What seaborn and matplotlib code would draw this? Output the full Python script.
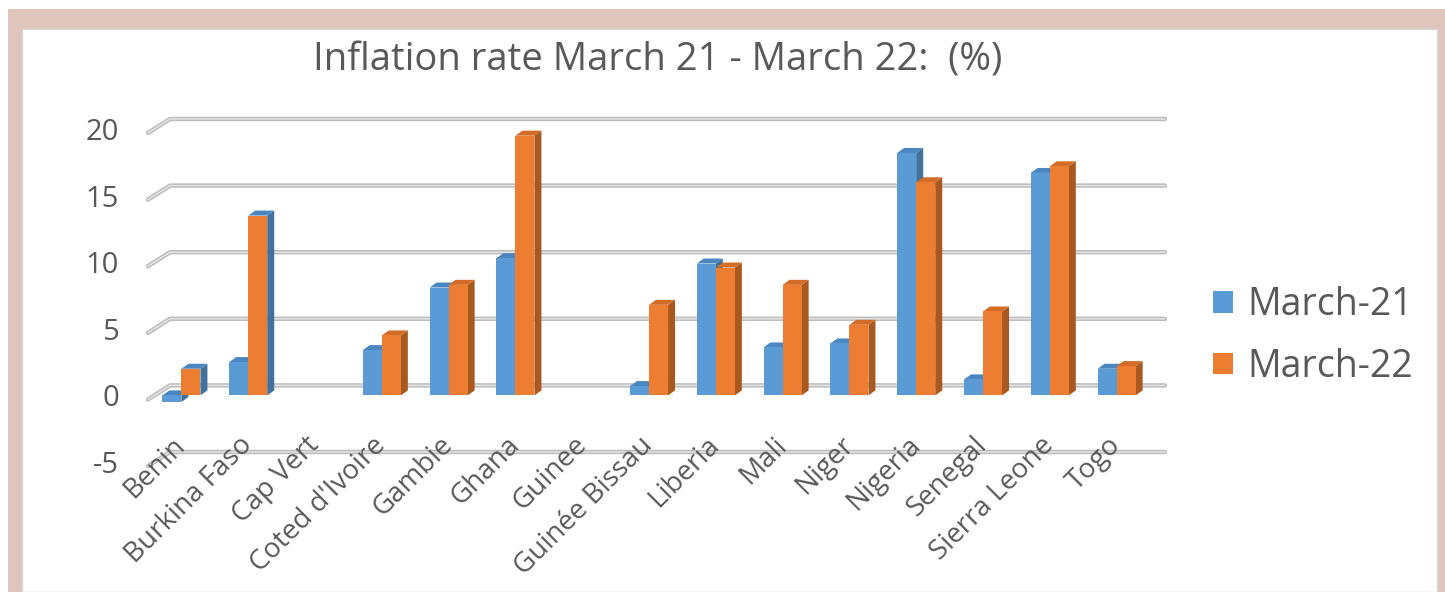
import numpy as np
import pandas as pd
import seaborn as sns
import matplotlib.pyplot as plt
from matplotlib.patches import Polygon, Rectangle, Patch
from matplotlib.transforms import ScaledTranslation

# values (NaN = no data)
countries = ["Benin", "Burkina Faso", "Cap Vert", "Coted d'Ivoire", "Gambie", "Ghana",
             "Guinee", "Guinée Bissau", "Liberia", "Mali", "Niger", "Nigeria",
             "Senegal", "Sierra Leone", "Togo"]
march_21 = [-0.5, 2.5, np.nan, 3.4, 8.1, 10.3, np.nan, 0.7, 9.9, 3.6, 3.9, 18.2, 1.2, 16.7, 2.0]
march_22 = [2.0, 13.5, np.nan, 4.5, 8.3, 19.5, np.nan, 6.8, 9.6, 8.3, 5.3, 16.0, 6.3, 17.2, 2.2]
series = ["March-21", "March-22"]
yticks = [-5, 0, 5, 10, 15, 20]

blue, orange = "#5b9bd5", "#ed7d31"
blue_side, orange_side = "#41719c", "#a9591f"
blue_top, orange_top = "#4a87c2", "#d26c27"
txt = "#595959"

df = pd.DataFrame({
    "country": countries * 2,
    "value": march_21 + march_22,
    "series": [series[0]] * len(countries) + [series[1]] * len(countries),
})

fig = plt.figure(figsize=(14.45, 5.92), dpi=100)
W, H = 1445, 592

# pink frame and white panel
fig.patches.append(Rectangle((8 / W, 0), 1 - 8 / W, 1 - 9 / H, transform=fig.transFigure,
                             facecolor="#e0c5bd", edgecolor="none", zorder=0))
fig.patches.append(Rectangle((22 / W, 0), 1415 / W, 1 - 29 / H, transform=fig.transFigure,
                             facecolor="white", edgecolor="#d9d9d9", linewidth=1, zorder=0.5))

ax = fig.add_axes([148 / W, (H - 462) / H, 1002 / W, 333 / H])
ax.set_zorder(2)
ax.set_facecolor("none")

sns.barplot(data=df, x="country", y="value", hue="series", palette=[blue, orange],
            width=0.57, ax=ax, legend=False, zorder=3, edgecolor="none", saturation=1)

ax.set_xlim(-0.5, len(countries) - 0.5)
ax.set_ylim(-5, 20)

# pixel -> data conversion for the 3D depth
px_x = ax.get_position().width * W / (len(countries))
px_y = ax.get_position().height * H / 25
dx, dy = 7 / px_x, 5 / px_y

# back-wall gridlines: front edge a bit below, back wall a bit above the bar plane
for v in yticks:
    xs = [-0.5, -0.5 + 22 / px_x, len(countries) - 0.5 + 15 / px_x]
    ys = [v - 4 / px_y, v + 10 / px_y, v + 10 / px_y]
    ax.plot(xs, ys, color="#bdbdbd", lw=3.2, solid_capstyle="round", clip_on=False, zorder=1)
    ax.plot(xs, ys, color="#e6e6e6", lw=1.0, solid_capstyle="round", clip_on=False, zorder=1.1)

# sides and tops for the bars
n = len(countries)
for i, p in enumerate(list(ax.patches)):
    h = p.get_height()
    if np.isnan(h):
        continue
    is_blue = i < n
    x0, x1 = p.get_x(), p.get_x() + p.get_width()
    y_lo, y_hi = min(0, h), max(0, h)
    side = Polygon([(x1, y_lo), (x1, y_hi), (x1 + dx, y_hi + dy), (x1 + dx, y_lo + dy)],
                   closed=True, facecolor=blue_side if is_blue else orange_side,
                   edgecolor="none", zorder=2)
    top = Polygon([(x0, y_hi), (x1, y_hi), (x1 + dx, y_hi + dy), (x0 + dx, y_hi + dy)],
                  closed=True, facecolor=blue_top if is_blue else orange_top,
                  edgecolor="none", zorder=2)
    ax.add_patch(side)
    ax.add_patch(top)

for s in ax.spines.values():
    s.set_visible(False)
ax.set_xlabel("")
ax.set_ylabel("")
ax.set_yticks(yticks)
ax.set_yticklabels([str(t) for t in yticks], fontsize=21, color=txt, fontfamily="Open Sans")
shift = ScaledTranslation(0, -4 / 100, fig.dpi_scale_trans)
for lab in ax.get_yticklabels():
    lab.set_transform(lab.get_transform() + shift)
ax.tick_params(axis="y", length=0, pad=21)
ax.tick_params(axis="x", length=0, pad=-15)
ax.set_xticks(range(n))
ax.set_xticklabels(countries, rotation=45, ha="right", va="center", rotation_mode="anchor",
                   fontsize=20, color=txt, fontfamily="Open Sans")

fig.text(658 / W, 1 - 60 / H, "Inflation rate March 21 - March 22:  (%)", ha="center",
         va="center", fontsize=27.5, color=txt, fontfamily="Open Sans")

handles = [Patch(facecolor=blue, edgecolor="none"), Patch(facecolor=orange, edgecolor="none")]
fig.legend(handles, series, loc="center left", bbox_to_anchor=(1213 / W, 1 - 336 / H),
           frameon=False, labelcolor=txt, handlelength=0.52, handleheight=0.52,
           handletextpad=0.4, labelspacing=0.63, borderpad=0, borderaxespad=0,
           prop={"family": "Open Sans", "size": 27})

fig.savefig("out.png", dpi=100)
